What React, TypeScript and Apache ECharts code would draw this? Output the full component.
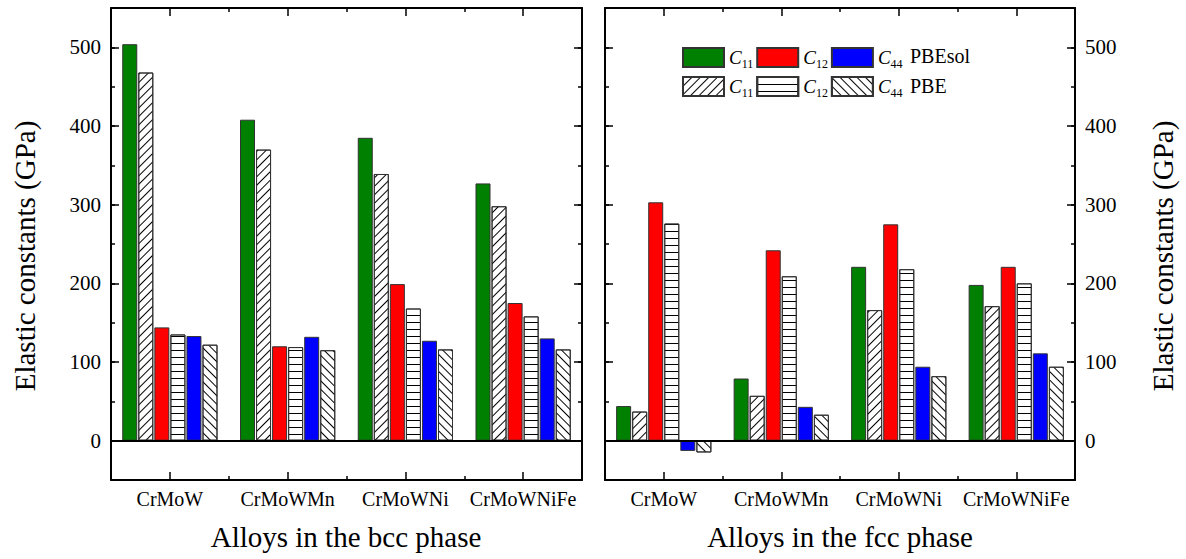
import React, { useEffect, useRef } from 'react';
import * as echarts from 'echarts';

const categories = ['CrMoW', 'CrMoWMn', 'CrMoWNi', 'CrMoWNiFe'];

const bccPBEsolC11 = [504, 408, 385, 327];
const bccPBEC11 = [468, 370, 339, 298];
const bccPBEsolC12 = [144, 120, 199, 175];
const bccPBEC12 = [135, 119, 168, 158];
const bccPBEsolC44 = [133, 132, 127, 130];
const bccPBEC44 = [122, 115, 116, 116];

const fccPBEsolC11 = [44, 79, 221, 198];
const fccPBEC11 = [37, 57, 166, 171];
const fccPBEsolC12 = [303, 242, 275, 221];
const fccPBEC12 = [276, 209, 218, 200];
const fccPBEsolC44 = [-13, 43, 94, 111];
const fccPBEC44 = [-15, 33, 82, 94];

const yMin = -50;
const yMax = 550;

const FONT = '"Liberation Serif", "Times New Roman", serif';

const hatchSlash = {
  symbol: 'rect', symbolSize: 1, color: '#000', backgroundColor: '#fff',
  dashArrayX: [1, 0], dashArrayY: [1, 5], rotation: -Math.PI / 4,
};
const hatchHoriz = {
  symbol: 'rect', symbolSize: 1, color: '#000', backgroundColor: '#fff',
  dashArrayX: [1, 0], dashArrayY: [1, 6], rotation: 0,
};
const hatchBack = {
  symbol: 'rect', symbolSize: 1, color: '#000', backgroundColor: '#fff',
  dashArrayX: [1, 0], dashArrayY: [1, 5], rotation: Math.PI / 4,
};

const seriesDefs = [
  { key: 'C11 PBEsol', color: '#008000', decal: null },
  { key: 'C11 PBE', color: '#fff', decal: hatchSlash },
  { key: 'C12 PBEsol', color: '#ff0000', decal: null },
  { key: 'C12 PBE', color: '#fff', decal: hatchHoriz },
  { key: 'C44 PBEsol', color: '#0000ff', decal: null },
  { key: 'C44 PBE', color: '#fff', decal: hatchBack },
];

const lineStyle = { color: '#000', width: 2 };

function yAxesFor(gridIndex: number, labelSide: 'left' | 'right') {
  const other = labelSide === 'left' ? 'right' : 'left';
  const major = (pos: string, labels: boolean) => ({
    type: 'value', gridIndex, position: pos, min: yMin, max: yMax, splitNumber: 6,
    axisLine: { show: true, onZero: false, lineStyle },
    axisTick: { show: true, inside: true, length: 8, lineStyle: { color: '#000', width: 1.5 } },
    axisLabel: {
      show: labels, showMinLabel: false, showMaxLabel: false, margin: 10,
      fontSize: 21, fontFamily: FONT, color: '#000',
    },
    splitLine: { show: false },
  });
  const minor = (pos: string) => ({
    type: 'value', gridIndex, position: pos, min: yMin, max: yMax, interval: 50,
    axisLine: { show: false, onZero: false },
    axisTick: { show: true, inside: true, length: 4, lineStyle: { color: '#000', width: 1.5 } },
    axisLabel: { show: false },
    splitLine: { show: false },
  });
  return [major(labelSide, true), minor(labelSide), major(other, false), minor(other)];
}

function xAxesFor(gridIndex: number) {
  const base = (pos: string, center: boolean, labels: boolean) => ({
    type: 'category', gridIndex, position: pos, data: categories,
    axisLine: { show: center, onZero: false, lineStyle },
    axisTick: {
      show: true, inside: true, alignWithLabel: center, length: center ? 8 : 4, interval: 0,
      lineStyle: { color: '#000', width: 1.5 },
    },
    axisLabel: { show: labels, interval: 0, fontSize: 20, fontFamily: FONT, color: '#000', margin: 9 },
    splitLine: { show: false },
  });
  return [base('bottom', true, true), base('bottom', false, false), base('top', true, false), base('top', false, false)];
}

function barSeries(axisIndex: number, values: number[][]) {
  return seriesDefs.map((d, i) => {
    const s: any = {
      type: 'bar', name: d.key, xAxisIndex: axisIndex, yAxisIndex: axisIndex,
      data: values[i], barWidth: 15, barGap: '7%',
      itemStyle: { color: d.color, borderColor: '#333', borderWidth: 1 },
    };
    if (d.decal) s.itemStyle.decal = d.decal;
    if (i === 0) {
      s.markLine = {
        silent: true, symbol: 'none', label: { show: false },
        lineStyle: { color: '#000', width: 2, type: 'solid' },
        data: [{ yAxis: 0 }],
      };
    }
    return s;
  });
}

function legendLabel(name: string) {
  const sub = name.slice(1, 3);
  return '{c|C}{s|' + sub + '}';
}

const legendCommon = {
  orient: 'horizontal', left: 682, itemWidth: 41, itemHeight: 19, itemGap: 3, padding: 0,
  icon: 'rect', selectedMode: false,
  formatter: legendLabel,
  textStyle: {
    width: 24,
    rich: {
      c: { fontFamily: FONT, fontStyle: 'italic', fontSize: 19, color: '#000', lineHeight: 24 },
      s: { fontFamily: FONT, fontSize: 12, color: '#000', verticalAlign: 'bottom', lineHeight: 14 },
    },
  },
};

export default function App() {
  const ref = useRef<HTMLDivElement>(null);
  useEffect(() => {
    const chart = echarts.init(ref.current!, null, { renderer: 'svg' });
    const option: any = {
      animation: false,
      backgroundColor: '#fff',
      grid: [
        { left: 111, top: 8, width: 471, height: 472 },
        { left: 605, top: 8, width: 470, height: 472 },
      ],
      xAxis: [...xAxesFor(0), ...xAxesFor(1)],
      yAxis: [...yAxesFor(0, 'left'), ...yAxesFor(1, 'right')],
      legend: [
        { ...legendCommon, top: 47, data: ['C11 PBEsol', 'C12 PBEsol', 'C44 PBEsol'] },
        { ...legendCommon, top: 76, data: ['C11 PBE', 'C12 PBE', 'C44 PBE'] },
      ],
      series: [
        ...barSeries(0, [bccPBEsolC11, bccPBEC11, bccPBEsolC12, bccPBEC12, bccPBEsolC44, bccPBEC44]),
        ...barSeries(4, [fccPBEsolC11, fccPBEC11, fccPBEsolC12, fccPBEC12, fccPBEsolC44, fccPBEC44]),
      ],
      graphic: [
        { type: 'text', x: 910, y: 56, style: { text: 'PBEsol', font: '20px ' + FONT, fill: '#000', verticalAlign: 'middle' } },
        { type: 'text', x: 910, y: 86, style: { text: 'PBE', font: '20px ' + FONT, fill: '#000', verticalAlign: 'middle' } },
        { type: 'text', x: 346, y: 537, style: { text: 'Alloys in the bcc phase', font: '29px ' + FONT, fill: '#000', align: 'center', verticalAlign: 'middle' } },
        { type: 'text', x: 840, y: 537, style: { text: 'Alloys in the fcc phase', font: '29px ' + FONT, fill: '#000', align: 'center', verticalAlign: 'middle' } },
        { type: 'text', x: 25, y: 256, rotation: Math.PI / 2, style: { text: 'Elastic constants (GPa)', font: '29px ' + FONT, fill: '#000', align: 'center', verticalAlign: 'middle' } },
        { type: 'text', x: 1163, y: 256, rotation: Math.PI / 2, style: { text: 'Elastic constants (GPa)', font: '29px ' + FONT, fill: '#000', align: 'center', verticalAlign: 'middle' } },
      ],
    };
    chart.setOption(option);
    return () => chart.dispose();
  }, []);
  return <div ref={ref} style={{ position: 'fixed', left: 0, top: 0, width: 1186, height: 559 }} />;
}
